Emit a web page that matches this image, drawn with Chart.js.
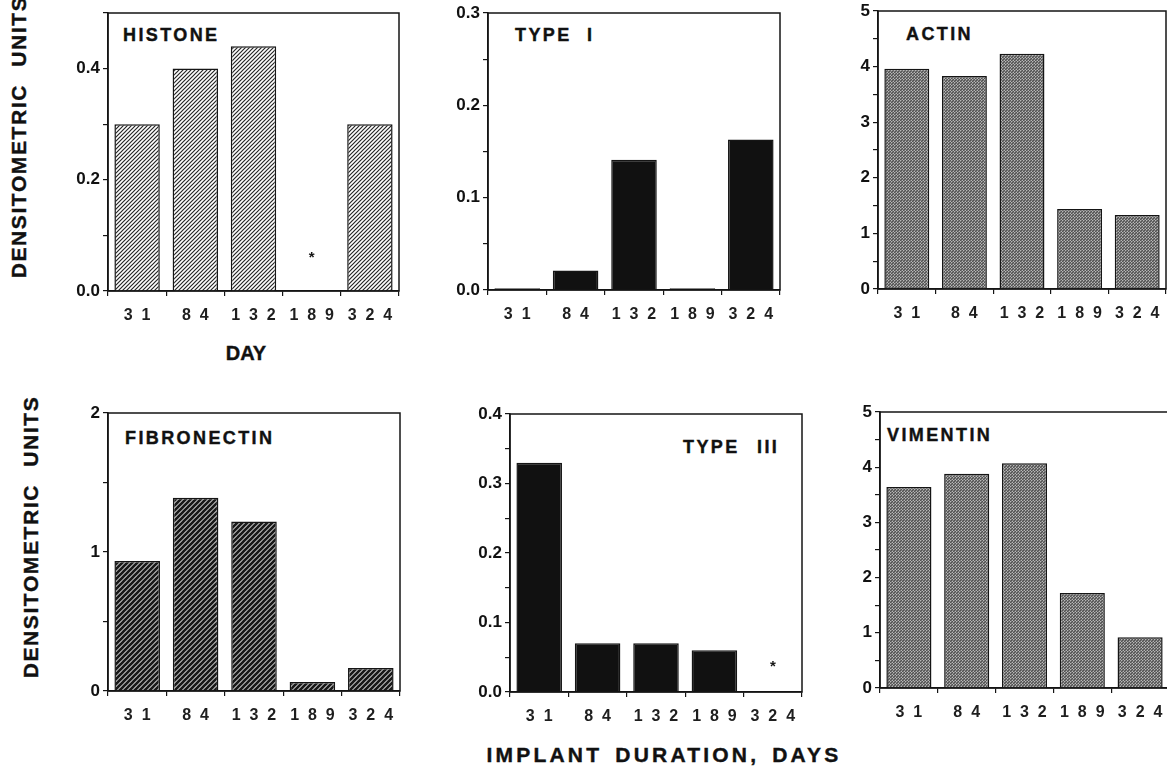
<!DOCTYPE html>
<html>
<head>
<meta charset="utf-8">
<script src="https://cdn.jsdelivr.net/npm/chart.js@4.4.1/dist/chart.umd.min.js"></script>
<style>
  body { margin: 0; width: 1167px; height: 774px; overflow: hidden; background: #fff;
         font-family: "Liberation Sans", Arial, sans-serif; }
  canvas { position: absolute; }
  .lbl { position: absolute; font-weight: bold; color: #111; white-space: nowrap; line-height: 1;
         -webkit-text-stroke: 0.4px #111; }
  .name { font-size: 18px; letter-spacing: 2.4px; transform: translateY(-50%); }
  .ytitle { font-size: 21px; letter-spacing: 1.6px; word-spacing: 10px;
            transform: translate(-50%, -50%) rotate(-90deg); }
</style>
</head>
<body>

<div class="lbl ytitle" style="left:18px; top:137px">DENSITOMETRIC UNITS</div>
<div class="lbl ytitle" style="left:30px; top:537px">DENSITOMETRIC UNITS</div>

<div class="lbl name" style="left:123px; top:35px">HISTONE</div>
<div class="lbl name" style="left:515px; top:35px; word-spacing:8px">TYPE I</div>
<div class="lbl name" style="left:906px; top:34px">ACTIN</div>
<div class="lbl name" style="left:125px; top:438px">FIBRONECTIN</div>
<div class="lbl name" style="left:683px; top:447px; word-spacing:10px">TYPE III</div>
<div class="lbl name" style="left:887px; top:435px">VIMENTIN</div>

<div class="lbl" style="left:246px; top:353px; font-size:20px; transform:translate(-50%,-50%)">DAY</div>
<div class="lbl" style="left:664px; top:754px; font-size:21px; letter-spacing:3.2px; word-spacing:4px; transform:translate(-50%,-50%)">IMPLANT DURATION, DAYS</div>

<script>
// implant duration, days
const days = [31, 84, 132, 189, 324];

// densitometric units per protein (null = not detected, drawn as *)
const histone     = [0.30, 0.40, 0.44, null, 0.30];
const typeI       = [0.002, 0.021, 0.141, 0.002, 0.163];
const actin       = [3.96, 3.83, 4.23, 1.44, 1.33];
const fibronectin = [0.935, 1.39, 1.22, 0.065, 0.165];
const typeIII     = [0.33, 0.07, 0.07, 0.06, null];
const vimentin    = [3.64, 3.88, 4.07, 1.72, 0.92];

// y axis ranges: max, minor step, labelled step, decimals
const histoneAxis     = [0.5, 0.1, 0.2, 1];
const typeIAxis       = [0.3, 0.05, 0.1, 1];
const actinAxis       = [5, 0.5, 1, 0];
const fibronectinAxis = [2, 0.5, 1, 0];
const typeIIIAxis     = [0.4, 0.05, 0.1, 1];
const vimentinAxis    = [5, 0.5, 1, 0];

const AXIS_W = 60, AXIS_H = 40, PAD_T = 16, PAD_R = 4;
const INK = '#151515';
const FONT = '"Liberation Sans", Arial, sans-serif';

function hatch(size, width, fg, bg) {
    const c = document.createElement('canvas');
    c.width = c.height = size;
    const g = c.getContext('2d');
    g.fillStyle = bg;
    g.fillRect(0, 0, size, size);
    g.strokeStyle = fg;
    g.lineWidth = width;
    g.beginPath();
    g.moveTo(-1, size + 1); g.lineTo(size + 1, -1);
    g.moveTo(-size / 2 - 1, size / 2 + 1); g.lineTo(size / 2 + 1, -size / 2 - 1);
    g.moveTo(size / 2 - 1, size * 1.5 + 1); g.lineTo(size * 1.5 + 1, size / 2 - 1);
    g.stroke();
    return g.createPattern(c, 'repeat');
}

function stipple() {
    const c = document.createElement('canvas');
    c.width = c.height = 3;
    const g = c.getContext('2d');
    g.fillStyle = '#7a7a7a';
    g.fillRect(0, 0, 3, 3);
    g.fillStyle = '#525252';
    g.fillRect(0, 0, 1, 1);
    g.fillRect(2, 1, 1, 1);
    g.fillRect(1, 2, 1, 1);
    g.fillStyle = '#b8b8b8';
    g.fillRect(1, 0, 1, 1);
    g.fillRect(0, 2, 1, 1);
    return g.createPattern(c, 'repeat');
}

const fills = {
    light: hatch(4, 1.2, '#262626', '#ffffff'),
    dark: hatch(5, 2.7, '#1a1a1a', '#f0f0f0'),
    solid: '#111111',
    gray: stipple()
};

// plot rectangles: left, top, right, bottom
const panels = [
    { data: histone,     axis: histoneAxis,     fill: 'light', rect: [108, 13, 399, 291], star: 33 },
    { data: typeI,       axis: typeIAxis,       fill: 'solid', rect: [488, 13, 780, 290] },
    { data: actin,       axis: actinAxis,       fill: 'gray',  rect: [878, 11, 1166, 289] },
    { data: fibronectin, axis: fibronectinAxis, fill: 'dark',  rect: [108, 413, 400, 691] },
    { data: typeIII,     axis: typeIIIAxis,     fill: 'solid', rect: [510, 414, 802, 692], star: 25 },
    { data: vimentin,    axis: vimentinAxis,    fill: 'gray',  rect: [880, 412, 1169, 688] }
];

const framePlugin = {
    id: 'frame',
    afterDraw(chart) {
        const a = chart.chartArea, ctx = chart.ctx;
        ctx.save();
        ctx.strokeStyle = INK;
        ctx.lineWidth = 1.5;
        ctx.strokeRect(a.left, a.top, a.right - a.left, a.bottom - a.top);
        ctx.restore();
    }
};

const starPlugin = {
    id: 'stars',
    afterDatasetsDraw(chart, args, opts) {
        const ctx = chart.ctx, x = chart.scales.x, y = chart.scales.y;
        ctx.save();
        ctx.fillStyle = INK;
        ctx.font = 'bold 15px ' + FONT;
        ctx.textAlign = 'center';
        ctx.textBaseline = 'middle';
        chart.data.datasets[0].data.forEach((v, i) => {
            if (v === null) ctx.fillText('*', x.getPixelForValue(i), y.bottom - opts.offset);
        });
        ctx.restore();
    }
};

panels.forEach(p => {
    const [l, t, r, b] = p.rect;
    const [max, minor, major, dec] = p.axis;
    const canvas = document.createElement('canvas');
    canvas.width = (r - l) + AXIS_W + PAD_R;
    canvas.height = (b - t) + PAD_T + AXIS_H;
    canvas.style.left = (l - AXIS_W) + 'px';
    canvas.style.top = (t - PAD_T) + 'px';
    document.body.appendChild(canvas);

    new Chart(canvas, {
        type: 'bar',
        data: {
            labels: days,
            datasets: [{
                data: p.data,
                backgroundColor: fills[p.fill],
                borderColor: INK,
                borderWidth: 1.5,
                barPercentage: 0.78,
                categoryPercentage: 1
            }]
        },
        options: {
            animation: false,
            responsive: false,
            layout: { padding: { top: PAD_T, right: PAD_R, left: 0, bottom: 0 } },
            plugins: {
                legend: { display: false },
                tooltip: { enabled: false },
                stars: { offset: p.star || 30 }
            },
            scales: {
                x: {
                    grid: { offset: true, drawOnChartArea: false, tickLength: 5, color: INK, lineWidth: 1.2 },
                    border: { color: INK, width: 1.5 },
                    ticks: {
                        color: '#1e1e1e',
                        padding: 10,
                        maxRotation: 0,
                        font: { family: FONT, size: 16, weight: 'bold' },
                        callback: (v, i) => String(days[i]).split('').join('  ')
                    },
                    afterFit: s => { s.height = AXIS_H; }
                },
                y: {
                    min: 0,
                    max: max,
                    grid: { drawOnChartArea: false, tickLength: 5, color: INK, lineWidth: 1.2 },
                    border: { color: INK, width: 1.5 },
                    ticks: {
                        stepSize: minor,
                        autoSkip: false,
                        color: '#111',
                        padding: 3,
                        font: { family: FONT, size: 17, weight: 'bold' },
                        callback: v => {
                            const k = v / major;
                            return Math.abs(k - Math.round(k)) < 1e-6 ? v.toFixed(dec) : '';
                        }
                    },
                    afterFit: s => { s.width = AXIS_W; }
                }
            }
        },
        plugins: [framePlugin, starPlugin]
    });
});
</script>
</body>
</html>
